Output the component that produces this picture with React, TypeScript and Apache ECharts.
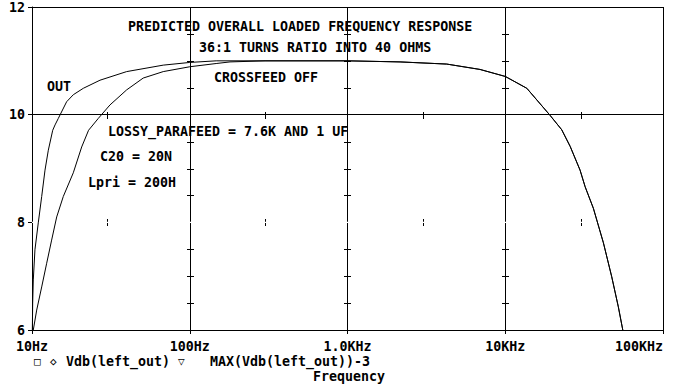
import React, { useEffect, useRef } from "react";
import * as echarts from "echarts";

// ---- data ----
const xTickValues = [10, 100, 1000, 10000, 100000];
const xTickLabels = ["10Hz", "100Hz", "1.0KHz", "10KHz", "100KHz"];
const yTickLabels = ["6", "8", "10", "12"];

// Vdb(left_out) trace "OUT" (outer low-frequency curve)
const outFreq = [10.05, 10.1, 10.19, 10.44, 10.96, 11.52, 12.09, 12.69, 13.53, 14.0, 14.68, 16.58, 18.27, 21.15, 26.98, 39.8, 67.9, 100, 147, 300, 1000, 2153, 4256, 6918, 10000, 13700, 19200, 22800, 25800, 29800, 32100, 36200, 41900, 47300, 52100, 55600];
const outDb = [6.0, 6.5, 6.93, 7.49, 7.99, 8.48, 8.97, 9.34, 9.71, 9.81, 9.93, 10.24, 10.37, 10.49, 10.64, 10.8, 10.92, 10.97, 11.0, 11.0, 11.0, 10.98, 10.94, 10.84, 10.71, 10.49, 9.99, 9.72, 9.41, 8.97, 8.66, 8.26, 7.62, 6.99, 6.43, 6.0];

// second Vdb(left_out) trace (inner low-frequency curve)
const innerFreq = [10.19, 10.71, 11.52, 12.39, 13.32, 14.34, 15.79, 18.27, 20.65, 22.83, 26.31, 31.2, 39.8, 50.7, 67.9, 100, 147, 180, 300, 1000, 2153, 4256, 6918, 10000, 13700, 19200, 22800, 25800, 29800, 32100, 36200, 41900, 47300, 52100, 55600];
const innerDb = [6.0, 6.37, 6.8, 7.24, 7.67, 8.1, 8.48, 8.92, 9.4, 9.71, 9.93, 10.18, 10.46, 10.68, 10.8, 10.89, 10.95, 10.98, 11.0, 11.0, 10.98, 10.94, 10.84, 10.71, 10.49, 9.99, 9.72, 9.41, 8.97, 8.66, 8.26, 7.62, 6.99, 6.43, 6.0];

// MAX(Vdb(left_out))-3 trace (constant, rendered white in the original)
const maxMinus3Freq = [10, 100000];
const maxMinus3Db = [8, 8];

// grid decoration ticks
const gridFreqs = [100, 1000, 10000];
const minorDb = [6.5, 7, 7.5, 8, 8.5, 9, 9.5, 10.5, 11, 11.5];
const midFreqs = [30, 300, 3000, 30000];
const hLineDb = [8, 10];

const FONT = "'DejaVu Sans Mono', 'Liberation Mono', monospace";
const FS = 13.3;

export default function App() {
  const ref = useRef<HTMLDivElement>(null);

  useEffect(() => {
    document.body.style.margin = "0";
    const chart = echarts.init(ref.current!, null, { renderer: "svg" });

    const tickData: number[][] = [];
    gridFreqs.forEach((f) => minorDb.forEach((d) => tickData.push([f, d, 0])));
    midFreqs.forEach((f) => hLineDb.forEach((d) => tickData.push([f, d, 1])));

    const textStyle = (text: string, x: number, y: number, extra: any = {}) => ({
      type: "text",
      x,
      y,
      silent: true,
      style: {
        text,
        fill: "#000",
        font: `bold ${extra.size || FS}px ${FONT}`,
        textVerticalAlign: "middle",
        textAlign: "left",
      },
    });

    const option: any = {
      animation: false,
      backgroundColor: "#fff",
      grid: { left: 32, top: 7, width: 631, height: 323, containLabel: false },
      xAxis: {
        type: "log",
        logBase: 10,
        min: 10,
        max: 100000,
        axisLine: { show: true, onZero: false, lineStyle: { color: "#000", width: 1 } },
        axisTick: { show: true, length: 4, lineStyle: { color: "#000" } },
        minorTick: { show: false },
        splitLine: { show: true, lineStyle: { color: "#000", width: 1 } },
        axisLabel: {
          color: "#000",
          fontFamily: FONT,
          fontWeight: "bold",
          fontSize: FS,
          margin: 10,
          alignMaxLabel: "right",
          formatter: (v: number) => {
            const i = xTickValues.findIndex((t) => Math.abs(Math.log10(t) - Math.log10(v)) < 1e-6);
            return i >= 0 ? xTickLabels[i] : "";
          },
        },
      },
      yAxis: {
        type: "value",
        min: 6,
        max: 12,
        interval: 2,
        axisLine: { show: true, lineStyle: { color: "#000", width: 1 } },
        axisTick: { show: true, length: 4, lineStyle: { color: "#000" } },
        splitLine: { show: true, lineStyle: { color: "#000", width: 1 } },
        axisLabel: {
          color: "#000",
          fontFamily: FONT,
          fontWeight: "bold",
          fontSize: FS,
          margin: 7,
          formatter: (v: number) => {
            const i = Math.round((v - 6) / 2);
            return yTickLabels[i] ?? "";
          },
        },
      },
      series: [
        {
          type: "custom",
          silent: true,
          clip: false,
          data: tickData,
          renderItem: (params: any, api: any) => {
            const p = api.coord([api.value(0), api.value(1)]);
            const x = Math.round(p[0]) + 0.5;
            const y = Math.round(p[1]) + 0.5;
            const horiz = api.value(2) === 0;
            return {
              type: "line",
              shape: horiz
                ? { x1: x - 3.5, y1: y, x2: x + 3.5, y2: y }
                : { x1: x, y1: y - 3.5, x2: x, y2: y + 3.5 },
              style: { stroke: "#000", lineWidth: 1 },
            };
          },
        },
        {
          name: "MAX(Vdb(left_out))-3",
          type: "line",
          silent: true,
          symbol: "none",
          lineStyle: { color: "#fff", width: 1.2 },
          data: maxMinus3Freq.map((f, i) => [f, maxMinus3Db[i]]),
        },
        {
          name: "Vdb(left_out)",
          type: "line",
          silent: true,
          symbol: "none",
          clip: true,
          lineStyle: { color: "#000", width: 1 },
          data: outFreq.map((f, i) => [f, outDb[i]]),
        },
        {
          name: "Vdb(left_out) 2",
          type: "line",
          silent: true,
          symbol: "none",
          clip: true,
          lineStyle: { color: "#000", width: 1 },
          data: innerFreq.map((f, i) => [f, innerDb[i]]),
        },
      ],
      graphic: [
        textStyle("PREDICTED OVERALL LOADED FREQUENCY RESPONSE", 128, 26),
        textStyle("36:1 TURNS RATIO INTO 40 OHMS", 199, 47),
        textStyle("CROSSFEED OFF", 214, 77),
        textStyle("OUT", 47, 86),
        textStyle("LOSSY_PARAFEED = 7.6K AND 1 UF", 108, 131),
        textStyle("C20 = 20N", 100, 156),
        textStyle("Lpri = 200H", 88, 182),
        textStyle("□", 34, 361, { size: 11 }),
        textStyle("◇", 50, 361, { size: 11 }),
        textStyle("Vdb(left_out)", 66, 361),
        textStyle("▽", 178, 361, { size: 11 }),
        textStyle("MAX(Vdb(left_out))-3", 210, 361),
        textStyle("Frequency", 313, 376),
      ],
    };

    chart.setOption(option);
    return () => chart.dispose();
  }, []);

  return <div ref={ref} style={{ width: 681, height: 390 }} />;
}
